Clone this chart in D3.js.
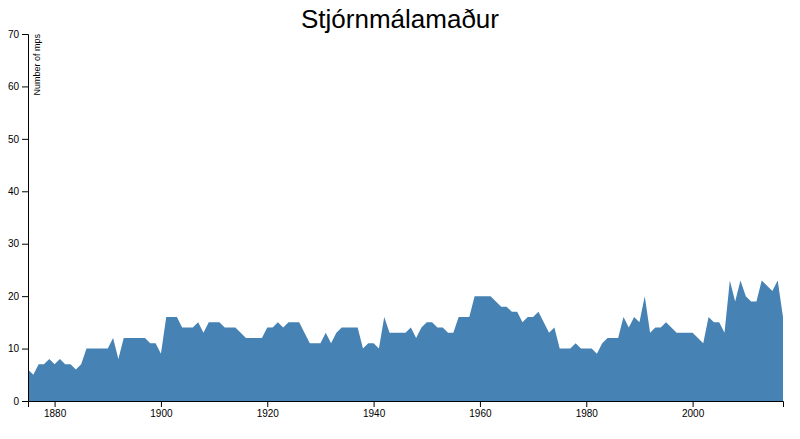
<!DOCTYPE html><html><head><meta charset="utf-8"><script src="https://d3js.org/d3.v7.min.js"></script>
<style>body{margin:0;background:#fff}text{font-family:"Liberation Sans",Arial,sans-serif}</style></head><body><svg id="c" width="800" height="439"></svg>
<script>
const startYear = 1875;
const mps = [6,5,7,7,8,7,8,7,7,6,7,10,10,10,10,10,12,8,12,12,12,12,12,11,11,9,
16,16,16,14,14,14,15,13,15,15,15,14,14,14,13,12,12,12,12,14,
14,15,14,15,15,15,13,11,11,11,13,11,13,14,14,14,14,10,11,11,10,16,13,13,13,13,14,12,14,15,15,14,14,13,13,16,16,16,20,20,20,20,19,18,18,17,17,15,16,
16,17,15,13,14,10,10,10,11,10,10,10,9,11,12,12,12,16,14,16,15,20,13,14,14,15,14,13,13,13,13,12,11,16,15,15,13,23,19,23,20,19,19,23,22,21,23,16];
const yTicks = [0,10,20,30,40,50,60,70];
const xTicks = [1880,1900,1920,1940,1960,1980,2000];
const data = mps.map((v,i)=>({year:startYear+i, v}));
const svg = d3.select("#c");
const m = {l:28, r:17, t:34, b:38};
const W=800,H=439;
const x = d3.scaleLinear().domain([startYear, startYear+mps.length-1]).range([m.l, W-m.r]);
const y = d3.scaleLinear().domain([0,70]).range([H-m.b, m.t]);
svg.append("path").datum(data).attr("fill","#4682b4")
  .attr("d", d3.area().x(d=>x(d.year)).y0(y(0)).y1(d=>y(d.v)));
svg.append("g").attr("transform",`translate(0,${H-m.b})`)
  .call(d3.axisBottom(x).tickValues(xTicks).tickFormat(d3.format("d")).tickSizeOuter(6))
  .selectAll("text").style("font-size","10px");
svg.append("g").attr("transform",`translate(${m.l},0)`)
  .call(d3.axisLeft(y).tickValues(yTicks).tickSizeOuter(6))
  .selectAll("text").style("font-size","10px");
svg.append("text").attr("transform",`translate(${m.l+12},${m.t})rotate(-90)`).attr("text-anchor","end")
  .style("font-size","9px").text("Number of mps");
svg.append("text").attr("x",W/2).attr("y",28).attr("text-anchor","middle").style("font-size","26px").text("Stjórnmálamaður");
</script></body></html>
